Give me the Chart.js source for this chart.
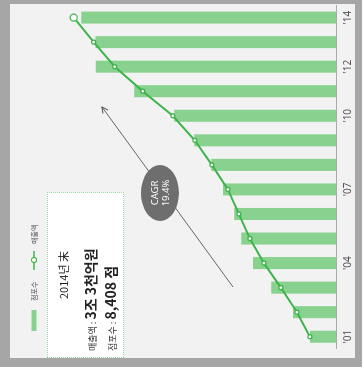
<!DOCTYPE html>
<html>
<head>
<meta charset="utf-8">
<script src="https://cdn.jsdelivr.net/npm/chart.js@4.4.1/dist/chart.umd.min.js"></script>
<style>
  html, body { margin: 0; padding: 0; width: 364px; height: 371px; background: #fff; overflow: hidden; font-family: "Noto Sans CJK KR", "Noto Sans", sans-serif; }
  /* the whole chart is laid out upright, then turned a quarter turn left */
  #wrap { position: fixed; left: 0; top: 0; width: 371px; height: 364px; transform-origin: 0 0; transform: translate(0, 371px) rotate(-90deg); }
  #frame { position: absolute; left: 4px; top: 0; width: 367px; height: 362px; background: #a6a6a6; }
  #panel { position: absolute; left: 13px; top: 10px; width: 354px; height: 345px; background: #f2f2f2; }
  #info { position: absolute; left: 13px; top: 47px; width: 164px; height: 75px; background: #fff; border: 1px dotted #9ad6a0; color: #222; }
  #info .l1 { position: absolute; left: 0; width: 100%; top: 7px; text-align: center; font-size: 11px; line-height: 16px; }
  #info .l2, #info .l3 { position: absolute; left: 6px; white-space: nowrap; line-height: 20px; }
  #info .l2 { top: 31px; }
  #info .l3 { top: 51px; }
  #info .s { font-size: 9px; color: #333; }
  #info .b { font-size: 14px; font-weight: bold; }
  #legend { position: absolute; left: 40px; top: 28px; height: 12px; font-size: 7px; color: #555; }
  #legend span { position: absolute; top: 0; line-height: 12px; white-space: nowrap; }
  #chartBox { position: absolute; left: 0; top: 0; width: 371px; height: 364px; }
  #cagr { position: absolute; left: 150px; top: 141px; width: 56px; height: 38px; border-radius: 50%; background: #6e6e6e; color: #fff; font-family: "Noto Sans", sans-serif; font-size: 9.5px; line-height: 11px; text-align: center; display: flex; flex-direction: column; justify-content: center; }
  svg { position: absolute; left: 0; top: 0; }
</style>
</head>
<body>
<div id="wrap">
  <div id="frame"></div>
  <div id="panel"></div>
  <div id="info">
    <div class="l1">2014년 末</div>
    <div class="l2"><span class="s">매출액 : </span><span class="b">3조 3천억원</span></div>
    <div class="l3"><span class="s">점포수 : </span><span class="b">8,408 점</span></div>
  </div>
  <div id="legend">
    <svg width="110" height="12">
      <rect x="0" y="3.5" width="21" height="5" fill="#88d18e"></rect>
      <line x1="61" y1="6" x2="80" y2="6" stroke="#3cb44b" stroke-width="1.5"></line>
      <circle cx="71" cy="6" r="2.5" fill="#fff" stroke="#3cb44b" stroke-width="1.2"></circle>
    </svg>
    <span style="left:30px">점포수</span>
    <span style="left:87px">매출액</span>
  </div>
  <div id="chartBox"><canvas id="grafico" width="371" height="364"></canvas></div>
  <svg width="371" height="364">
    <defs>
      <marker id="punta" markerWidth="8" markerHeight="8" refX="7" refY="4" orient="auto" markerUnits="userSpaceOnUse">
        <path d="M1,1 L7,4 L1,7" fill="none" stroke="#555" stroke-width="1"></path>
      </marker>
    </defs>
    <line x1="84" y1="233" x2="264" y2="102" stroke="#666" stroke-width="1" marker-end="url(#punta)"></line>
  </svg>
  <div id="cagr"><div>CAGR</div><div>19.4%</div></div>
</div>

<script>
// === Datos ===
const years = ['2001', '2002', '2003', '2004', '2005', '2006', '2007', '2008', '2009', '2010', '2011', '2012', '2013', '2014'];
const tickLabels = ["'01", '', '', "'04", '', '', "'07", '', '', "'10", '', "'12", '', "'14"];
const stores = [860, 1420, 2140, 2740, 3130, 3360, 3730, 4120, 4680, 5340, 6660, 7930, 7940, 8408];      // 점포수
const sales = [3280, 4910, 6930, 9070, 10830, 12220, 13600, 15620, 17760, 20530, 24310, 27840, 30480, 33000]; // 매출액 (억원)

// último punto más grande
const pointSizes = sales.map((v, i) => i === sales.length - 1 ? 3.5 : 2);

new Chart(document.getElementById('grafico'), {
    type: 'bar',
    data: {
        labels: years,
        datasets: [{
            type: 'line',
            label: '매출액',
            data: sales,
            yAxisID: 'ySales',
            borderColor: '#3cb44b',
            borderWidth: 2,
            pointBackgroundColor: '#fff',
            pointBorderColor: '#3cb44b',
            pointBorderWidth: 1.3,
            pointRadius: pointSizes,
            tension: 0,
            order: 0
        }, {
            label: '점포수',
            data: stores,
            yAxisID: 'yStores',
            backgroundColor: '#88d18e',
            barPercentage: 0.49,
            categoryPercentage: 1,
            order: 1
        }]
    },
    options: {
        responsive: false,
        animation: false,
        layout: { padding: { left: 22, right: 5, top: 18, bottom: 0 } },
        plugins: { legend: { display: false }, tooltip: { enabled: false } },
        scales: {
            x: {
                grid: { display: false, drawTicks: false },
                border: { color: '#aaa', width: 1 },
                ticks: {
                    autoSkip: false,
                    maxRotation: 0,
                    padding: 6,
                    color: '#555',
                    font: { family: 'Noto Sans', size: 10 },
                    callback: (v, i) => tickLabels[i]
                },
                afterFit: scale => { scale.height = 28; }
            },
            yStores: { display: false, min: 0, max: 10500 },
            ySales: { display: false, min: 0, max: 40000 }
        }
    }
});
</script>
</body>
</html>
